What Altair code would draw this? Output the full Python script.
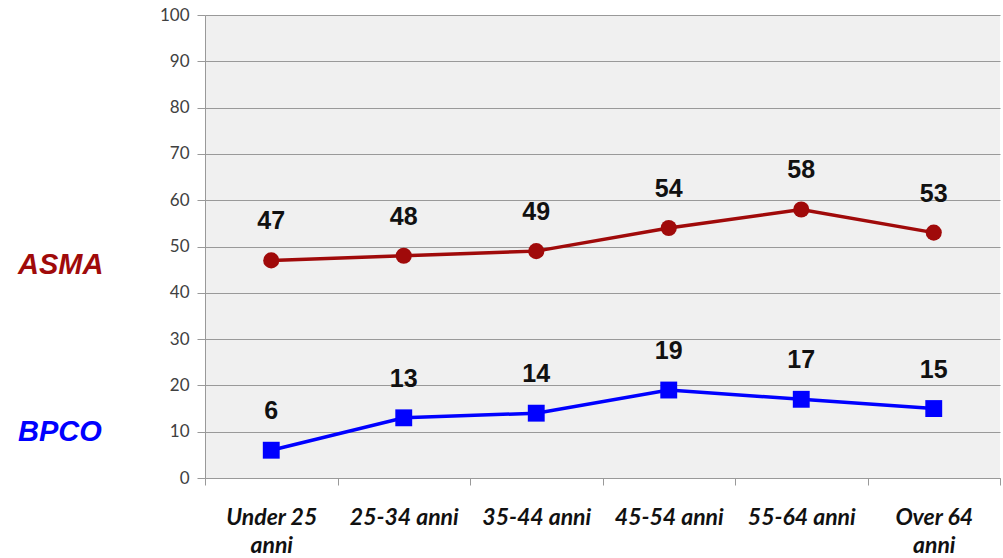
import altair as alt
import pandas as pd

# Age groups ("|" marks a line break in the axis label)
age_groups = ["Under 25|anni", "25-34 anni", "35-44 anni", "45-54 anni", "55-64 anni", "Over 64|anni"]
asma = [47, 48, 49, 54, 58, 53]
bpco = [6, 13, 14, 19, 17, 15]

series_names = ["ASMA", "BPCO"]
series_colors = ["#a00a0a", "#0000ff"]
series_label_y = [46, 10]

rows = []
for g, a, b in zip(age_groups, asma, bpco):
    rows.append({"gruppo": g, "serie": "ASMA", "valore": a})
    rows.append({"gruppo": g, "serie": "BPCO", "valore": b})
df = pd.DataFrame(rows)

labels_df = pd.DataFrame({"serie": series_names, "valore": series_label_y})

color = alt.Color("serie:N", scale=alt.Scale(domain=series_names, range=series_colors), legend=None)

x = alt.X(
    "gruppo:N",
    sort=age_groups,
    scale=alt.Scale(paddingInner=0, paddingOuter=0),
    axis=alt.Axis(
        title=None,
        labelAngle=0,
        labelExpr="split(datum.label, '|')",
        labelFont="Lato",
        labelFontSize=23,
        labelFontStyle="italic",
        labelFontWeight="bold",
        labelColor="#111111",
        labelPadding=21,
        labelLineHeight=28,
        tickBand="extent",
        tickColor="#999999",
        tickSize=7,
        domainColor="#999999",
        grid=False,
    ),
)
y = alt.Y(
    "valore:Q",
    scale=alt.Scale(domain=[0, 100], nice=False),
    axis=alt.Axis(
        title=None,
        values=list(range(0, 101, 10)),
        labelFont="Lato",
        labelFontSize=17,
        labelColor="#404040",
        labelPadding=8,
        tickColor="#999999",
        tickSize=8,
        domainColor="#999999",
        gridColor="#999999",
        gridWidth=1.2,
    ),
)

base = alt.Chart(df).encode(x=x, y=y, color=color)

lines = base.mark_line(strokeWidth=3.5)
asma_pts = base.transform_filter("datum.serie == 'ASMA'").mark_point(
    shape="circle", filled=True, size=260, opacity=1
)
bpco_pts = base.transform_filter("datum.serie == 'BPCO'").mark_point(
    shape="square", filled=True, size=285, opacity=1
)
values = base.mark_text(
    dy=-39, font="Liberation Sans", fontSize=25, fontWeight="bold", color="#111111"
).encode(text="valore:Q", color=alt.value("#111111"))

series_labels = alt.Chart(labels_df).mark_text(
    font="Liberation Sans", fontSize=29, fontWeight="bold", fontStyle="italic", align="left"
).encode(
    x=alt.value(-187),
    y=alt.Y("valore:Q", scale=alt.Scale(domain=[0, 100], nice=False)),
    text="serie:N",
    color=color,
)

chart = (
    alt.layer(lines, asma_pts, bpco_pts, values, series_labels)
    .properties(
        width=795,
        height=463,
        background="white",
        autosize=alt.AutoSizeParams(type="none"),
        padding={"left": 205, "top": 15, "right": 3, "bottom": 80},
    )
    .configure_view(fill="#f0f0f0", stroke=None)
)

chart.save("out.html", embed_options={"renderer": "svg", "actions": False})
